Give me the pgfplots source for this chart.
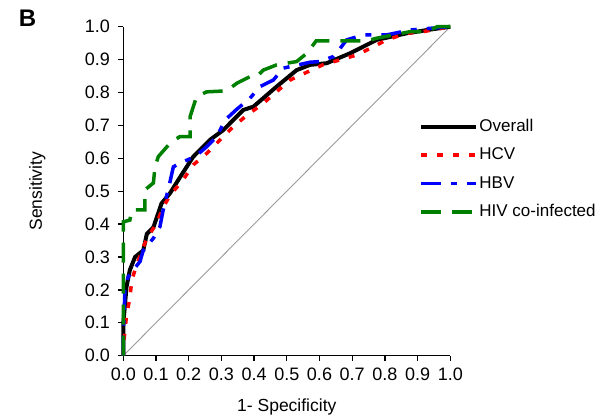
\documentclass[border=0pt]{standalone}
\usepackage{fontspec}
\setmainfont{Liberation Sans}
\usepackage{pgfplots}
\pgfplotsset{compat=1.18}
\definecolor{hivgreen}{RGB}{0,128,0}
\begin{document}
\begin{tikzpicture}
\useasboundingbox (-123.3bp,-64.3bp) rectangle (476.7bp,355.7bp);
\begin{axis}[
  scale only axis, width=327bp, height=329bp,
  xmin=0, xmax=1, ymin=0, ymax=1,
  axis x line*=bottom, axis y line*=left,
  axis line style={line width=1.5bp, -},
  clip=false,
  xtick={0,0.1,0.2,0.3,0.4,0.5,0.6,0.7,0.8,0.9,1.0},
  ytick={0,0.1,0.2,0.3,0.4,0.5,0.6,0.7,0.8,0.9,1.0},
  tick align=outside, major tick length=5bp,
  tick style={line width=1.3bp, black},
  tick label style={font=\fontsize{18bp}{21bp}\selectfont},
  xticklabel style={yshift=-4bp},
  yticklabel style={xshift=-5bp},
  /pgf/number format/.cd, fixed, fixed zerofill, precision=1, assume math mode=true,
  /pgfplots/.cd,
  xlabel={1- Specificity}, ylabel={Sensitivity},
  label style={font=\fontsize{17.5bp}{21bp}\selectfont},
  xlabel style={at={(axis description cs:0.5,-0.155)}, anchor=center},
  ylabel style={at={(axis description cs:-0.263,0.5)}, anchor=center, rotate=0},
  legend style={draw=none, fill=none, at={(axis description cs:0.905,0.724)}, anchor=north west,
    font=\fontsize{17bp}{20bp}\selectfont, inner sep=0pt, row sep=10.5bp,
    nodes={inner sep=1bp, text height=12.5bp, text depth=3.5bp}},
  legend cell align=left,
  legend image code/.code={\draw[#1] (0bp,0bp) -- (55bp,0bp);},
]
\addplot[gray!80, line width=0.9bp, forget plot] coordinates {(0,0) (1,1)};
\addplot[black, line width=4bp] coordinates {
(0,0) (0,0.098) (0.01,0.21) (0.02,0.26) (0.036,0.30) (0.061,0.32) (0.072,0.37) (0.092,0.39) (0.117,0.463) (0.143,0.494) (0.168,0.534) (0.214,0.605) (0.265,0.656) (0.306,0.686) (0.367,0.747) (0.398,0.757) (0.469,0.818) (0.530,0.868) (0.571,0.884) (0.622,0.889) (0.693,0.919) (0.775,0.96) (0.867,0.98) (0.93,0.99) (1,1)};
\addlegendentry{Overall}
\addplot[red, line width=3.5bp, dash pattern=on 6bp off 10bp] coordinates {
(0,0) (0,0.027) (0.01,0.124) (0.02,0.174) (0.026,0.23) (0.041,0.276) (0.056,0.316) (0.072,0.357) (0.102,0.402) (0.122,0.453) (0.148,0.494) (0.179,0.529) (0.214,0.58) (0.255,0.615) (0.336,0.696) (0.377,0.73) (0.428,0.767) (0.51,0.838) (0.61,0.884) (0.714,0.914) (0.765,0.939) (0.805,0.96) (0.867,0.98) (0.917,0.985) (1,1)};
\addlegendentry{HCV}
\addplot[blue, line width=3.5bp, dash pattern=on 20bp off 10bp on 6bp off 10bp] coordinates {
(0,0) (0,0.058) (0.005,0.2) (0.015,0.24) (0.03,0.26) (0.051,0.286) (0.061,0.32) (0.092,0.357) (0.112,0.392) (0.122,0.443) (0.143,0.529) (0.153,0.574) (0.173,0.585) (0.219,0.605) (0.255,0.635) (0.286,0.666) (0.311,0.716) (0.347,0.749) (0.387,0.782) (0.418,0.818) (0.459,0.838) (0.489,0.874) (0.571,0.892) (0.6,0.894) (0.642,0.909) (0.66,0.93) (0.683,0.96) (0.734,0.975) (0.805,0.975) (0.877,0.99) (0.938,0.995) (1,1)};
\addlegendentry{HBV}
\addplot[hivgreen, line width=3.5bp, dash pattern=on 20bp off 11bp] coordinates {
(0,0) (0,0.407) (0.02,0.412) (0.026,0.443) (0.066,0.443) (0.066,0.504) (0.092,0.525) (0.097,0.574) (0.107,0.605) (0.143,0.646) (0.173,0.666) (0.204,0.666) (0.204,0.726) (0.224,0.787) (0.255,0.802) (0.316,0.805) (0.347,0.828) (0.387,0.848) (0.408,0.848) (0.428,0.868) (0.469,0.884) (0.530,0.894) (0.561,0.919) (0.565,0.924) (0.59,0.957) (0.744,0.957) (0.775,0.965) (0.826,0.975) (0.877,0.985) (0.928,0.985) (0.96,1) (1,1)};
\addlegendentry{HIV co-infected}
\end{axis}
\node[font=\fontsize{24bp}{26bp}\selectfont\bfseries] at (-95.8bp,337.2bp) {B};
\end{tikzpicture}
\end{document}
